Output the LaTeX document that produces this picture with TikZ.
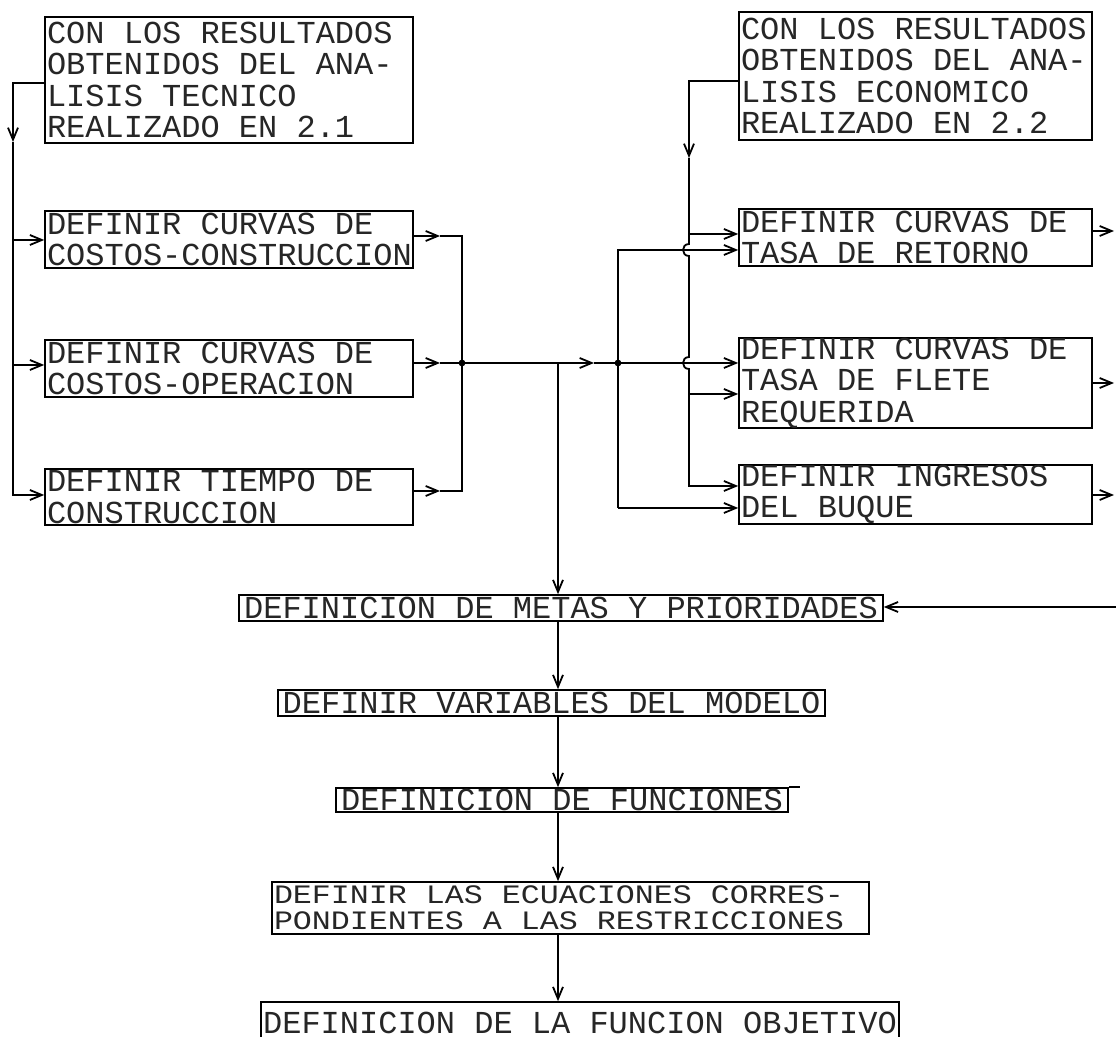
\documentclass[tikz,border=0pt]{standalone}
\usepackage{fontspec}
\setmonofont{Liberation Mono}
\newfontfamily\rfont[FakeStretch=1.19]{Liberation Mono}
\newcommand\mysp{\spaceskip=\fontdimen2\font\xspaceskip=\fontdimen2\font\relax}
\usetikzlibrary{arrows.meta}
\begin{document}
\begin{tikzpicture}[x=0.5pt,y=-0.5pt,
  bx/.style={draw, line width=0.8pt, rectangle, inner xsep=1pt, inner ysep=0pt,
    font=\ttfamily\fontsize{16}{15.7}\selectfont, text=black!85, align=left, anchor=center},
  bxs/.style={bx, font=\rfont\fontsize{13.3}{12.8}\selectfont},
  ln/.style={line width=0.9pt},
  arr/.style={ln, -{Straight Barb[length=6pt,width=5pt]}}
]
\useasboundingbox (0,0) rectangle (1116,1037);

% ---------- boxes ----------
\node[bx, minimum width=184pt, minimum height=63pt, text width=182pt] (A) at (229,80)
  {\mysp CON LOS RESULTADOS\\OBTENIDOS DEL ANA-\\LISIS TECNICO\\REALIZADO EN 2.1};
\node[bx, minimum width=184pt, minimum height=28.5pt, text width=182pt] (B1) at (229,239.5)
  {\mysp DEFINIR CURVAS DE\\COSTOS-CONSTRUCCION};
\node[bx, minimum width=184pt, minimum height=28.5pt, text width=182pt] (B2) at (229,368.5)
  {\mysp DEFINIR CURVAS DE\\COSTOS-OPERACION};
\node[bx, minimum width=184pt, minimum height=28pt, text width=182pt] (B3) at (229,497)
  {\mysp DEFINIR TIEMPO DE\\CONSTRUCCION};

\node[bx, minimum width=176.5pt, minimum height=64pt, text width=174.5pt] (Ec) at (915.5,76)
  {\mysp CON LOS RESULTADOS\\OBTENIDOS DEL ANA-\\LISIS ECONOMICO\\REALIZADO EN 2.2};
\node[bx, minimum width=176.5pt, minimum height=28.5pt, text width=174.5pt] (C1) at (915.5,237.5)
  {\mysp DEFINIR CURVAS DE\\TASA DE RETORNO};
\node[bx, minimum width=176.5pt, minimum height=44pt, text width=174.5pt] (C2) at (915.5,383)
  {\mysp DEFINIR CURVAS DE\\TASA DE FLETE\\REQUERIDA};
\node[bx, minimum width=176.5pt, minimum height=27.5pt, text width=174.5pt] (C3) at (915.5,494.5)
  {\mysp DEFINIR INGRESOS\\DEL BUQUE};

\node[bx, minimum width=322pt, minimum height=13pt] (Metas) at (561,608)
  {DEFINICION DE METAS Y PRIORIDADES};
\node[bx, minimum width=273.5pt, minimum height=13pt] (Vars) at (551.5,703)
  {DEFINIR VARIABLES DEL MODELO};
\node[bx, minimum width=226pt, minimum height=12pt] (Func) at (562,800)
  {DEFINICION DE FUNCIONES};
\node[bxs, minimum width=298.5pt, minimum height=26pt, text width=296.5pt] (Restr) at (570.5,908)
  {\mysp DEFINIR LAS ECUACIONES CORRES-\\PONDIENTES A LAS RESTRICCIONES};
\node[bx, minimum width=318pt, minimum height=21pt] (Obj) at (580,1023)
  {DEFINICION DE LA FUNCION OBJETIVO};

% ---------- reference levels ----------
\coordinate (lb) at (13,0);
\coordinate (ax) at (440,0);
\coordinate (jx) at (462,0);
\coordinate (tr) at (558,0);
\coordinate (am) at (594,0);
\coordinate (lb2) at (618,0);
\coordinate (rb) at (689,0);
\coordinate (rx) at (1114,0);
\coordinate (rxe) at (1116,0);

\coordinate (yA) at (0,83);
\coordinate (yLa) at (0,142);
\coordinate (yB1) at (0,240);
\coordinate (yB1o) at (0,236);
\coordinate (yB2) at (0,365);
\coordinate (yM) at (0,363);
\coordinate (yB3) at (0,495);
\coordinate (yB3o) at (0,491);

\coordinate (yEc) at (0,81);
\coordinate (yRa) at (0,158);
\coordinate (yC1a) at (0,234);
\coordinate (yC1b) at (0,250);
\coordinate (yC2b) at (0,394);
\coordinate (yC3a) at (0,486);
\coordinate (yC3b) at (0,508);
\coordinate (h1t) at (0,244);
\coordinate (h1b) at (0,256);
\coordinate (h2t) at (0,357);
\coordinate (h2b) at (0,369);
\coordinate (yC1o) at (0,231);
\coordinate (yC2o) at (0,383);
\coordinate (yC3o) at (0,495);
\coordinate (yMr) at (0,607);

% ---------- left bus ----------
\draw[arr] (A.west |- yA) -- (lb |- yA) -- (lb |- yLa);
\draw[arr] (lb |- yLa) -- (lb |- yB3) -- (B3.west |- yB3);
\draw[arr] (lb |- yB1) -- (B1.west |- yB1);
\draw[arr] (lb |- yB2) -- (B2.west |- yB2);

% ---------- outputs of B boxes ----------
\draw[arr] (B1.east |- yB1o) -- (ax |- yB1o);
\draw[arr] (B2.east |- yM) -- (ax |- yM);
\draw[arr] (B3.east |- yB3o) -- (ax |- yB3o);
\draw[ln] (ax |- yB1o) -- (jx |- yB1o) -- (jx |- yB3o) -- (ax |- yB3o);
\draw[arr] (ax |- yM) -- (am |- yM);
\draw[arr] (am |- yM) -- (C2.west |- yM);
\fill (jx |- yM) circle[radius=1.7pt];
\fill (lb2 |- yM) circle[radius=1.7pt];

% ---------- right buses ----------
\draw[arr] (Ec.west |- yEc) -- (rb |- yEc) -- (rb |- yRa);
\draw[arr] (rb |- yRa) -- (rb |- h1t) .. controls +(-8,0) and +(-8,0) .. (rb |- h1b)
  -- (rb |- h2t) .. controls +(-8,0) and +(-8,0) .. (rb |- h2b)
  -- (rb |- yC3a) -- (C3.west |- yC3a);
\draw[arr] (rb |- yC1a) -- (C1.west |- yC1a);
\draw[arr] (rb |- yC2b) -- (C2.west |- yC2b);
\draw[arr] (lb2 |- yC3b) -- (lb2 |- yC1b) -- (C1.west |- yC1b);
\draw[arr] (lb2 |- yC3b) -- (C3.west |- yC3b);

% ---------- outputs of C boxes ----------
\draw[arr] (C1.east |- yC1o) -- (rx |- yC1o);
\draw[arr] (C2.east |- yC2o) -- (rx |- yC2o);
\draw[arr] (C3.east |- yC3o) -- (rx |- yC3o);
\draw[arr] (rxe |- yMr) -- (Metas.east |- yMr);

% ---------- trunk ----------
\draw[arr] (tr |- yM) -- (Metas.north -| tr);
\draw[arr] (Metas.south -| tr) -- (Vars.north -| tr);
\draw[arr] (Vars.south -| tr) -- (Func.north -| tr);
\draw[arr] (Func.south -| tr) -- (Restr.north -| tr);
\draw[arr] (Restr.south -| tr) -- (Obj.north -| tr);
\draw[line width=0.8pt] (Func.north east) -- ++(11,0);
\end{tikzpicture}
\end{document}
